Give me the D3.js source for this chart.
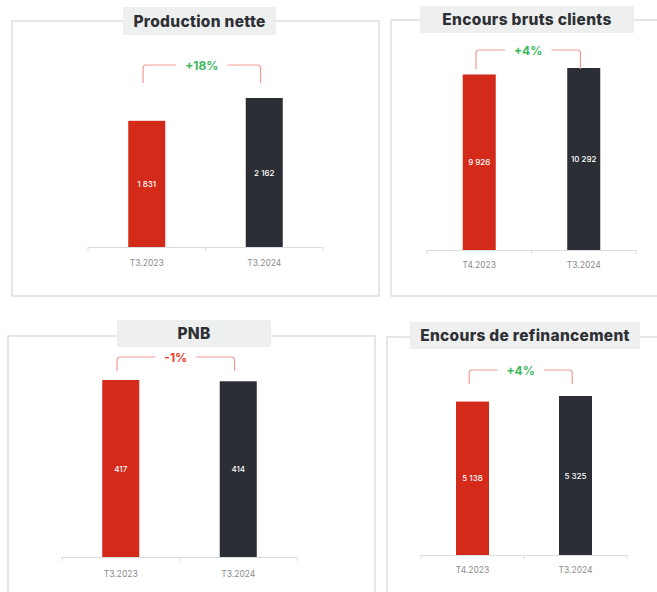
<!DOCTYPE html>
<html>
<head>
<meta charset="utf-8">
<script src="https://cdn.jsdelivr.net/npm/d3@7"></script>
<style>
  body { margin: 0; background: #fff; }
  svg { display: block; }
</style>
</head>
<body>
<div id="chart"></div>
<script>
// data
var titles = ["Production nette", "Encours bruts clients", "PNB", "Encours de refinancement"];
var periods1 = ["T3.2023", "T3.2024"];
var periods2 = ["T4.2023", "T3.2024"];
var periods3 = ["T3.2023", "T3.2024"];
var periods4 = ["T4.2023", "T3.2024"];
var values1 = [1831, 2162];
var values2 = [9926, 10292];
var values3 = [417, 414];
var values4 = [5138, 5325];
var labels1 = ["1 831", "2 162"];
var labels2 = ["9 926", "10 292"];
var labels3 = ["417", "414"];
var labels4 = ["5 138", "5 325"];
var changes = ["+18%", "+4%", "-1%", "+4%"];

var W = 657, H = 592;
var red = "#d42a1a", dark = "#2c2e35", green = "#3dba5c", pinkLine = "#f29a94";

// layout of each panel (box, title box, plot area)
var panels = [
  {title: titles[0], cats: periods1, vals: values1, labs: labels1, chg: changes[0],
   box: [12, 21, 379, 296], tbox: [123, 7, 276, 35],
   ax: [88, 323], base: 247, top: 98, bw: 37, by: 65, bh: 18, lblY: 266},
  {title: titles[1], cats: periods2, vals: values2, labs: labels2, chg: changes[1],
   box: [391, 20, 665, 296], tbox: [420, 6, 634, 33],
   ax: [427, 636], base: 250, top: 68, bw: 33, by: 50, bh: 19, lblY: 268},
  {title: titles[2], cats: periods3, vals: values3, labs: labels3, chg: changes[2],
   box: [8, 336, 375, 600], tbox: [117, 320, 271, 347],
   ax: [62, 297], base: 557, top: 380, bw: 37, by: 357, bh: 14, lblY: 577},
  {title: titles[3], cats: periods4, vals: values4, labs: labels4, chg: changes[3],
   box: [387, 337, 665, 600], tbox: [410, 322, 640, 349],
   ax: [421, 627], base: 555, top: 396, bw: 33, by: 370, bh: 14, lblY: 573}
];

var svg = d3.select("#chart").append("svg")
  .attr("width", W).attr("height", H)
  .style("font-family", "Inter, 'Noto Sans', sans-serif");

panels.forEach(function(p) {
  var g = svg.append("g");

  // panel frame
  g.append("rect")
    .attr("x", p.box[0]).attr("y", p.box[1])
    .attr("width", p.box[2] - p.box[0]).attr("height", p.box[3] - p.box[1])
    .attr("fill", "none").attr("stroke", "#dde2e2").attr("stroke-width", 1.6);

  // title box
  g.append("rect")
    .attr("x", p.tbox[0]).attr("y", p.tbox[1])
    .attr("width", p.tbox[2] - p.tbox[0]).attr("height", p.tbox[3] - p.tbox[1])
    .attr("fill", "#eef0f0");
  g.append("text")
    .attr("x", (p.tbox[0] + p.tbox[2]) / 2)
    .attr("y", (p.tbox[1] + p.tbox[3]) / 2 + 5.5)
    .attr("text-anchor", "middle")
    .attr("font-size", "15.5px").attr("font-weight", 800)
    .attr("letter-spacing", "0.3px")
    .attr("fill", "#2f3035")
    .text(p.title);

  var x = d3.scalePoint().domain(p.cats).range(p.ax).padding(0.5);
  var y = d3.scaleLinear().domain([0, d3.max(p.vals)]).range([p.base, p.top]);

  // axis line with ticks between categories
  g.append("line")
    .attr("x1", p.ax[0]).attr("x2", p.ax[1])
    .attr("y1", p.base + 0.5).attr("y2", p.base + 0.5)
    .attr("stroke", "#d9dede").attr("stroke-width", 1);
  [p.ax[0], (p.ax[0] + p.ax[1]) / 2, p.ax[1]].forEach(function(tx) {
    g.append("line")
      .attr("x1", tx).attr("x2", tx)
      .attr("y1", p.base).attr("y2", p.base + 4)
      .attr("stroke", "#d9dede");
  });

  // bars
  g.selectAll("rect.bar")
    .data(p.vals)
    .enter().append("rect")
    .attr("class", "bar")
    .attr("x", function(d, i) { return x(p.cats[i]) - p.bw / 2; })
    .attr("y", function(d) { return y(d); })
    .attr("width", p.bw)
    .attr("height", function(d) { return p.base - y(d); })
    .attr("fill", function(d, i) { return i == 0 ? red : dark; });

  // value labels
  g.selectAll("text.val")
    .data(p.vals)
    .enter().append("text")
    .attr("class", "val")
    .attr("x", function(d, i) { return x(p.cats[i]); })
    .attr("y", function(d) { return (y(d) + p.base) / 2 + 3; })
    .attr("text-anchor", "middle")
    .attr("font-size", "8px").attr("font-weight", 500)
    .attr("fill", "#fff")
    .text(function(d, i) { return p.labs[i]; });

  // category labels
  g.selectAll("text.cat")
    .data(p.cats)
    .enter().append("text")
    .attr("class", "cat")
    .attr("x", function(d) { return x(d); })
    .attr("y", p.lblY)
    .attr("text-anchor", "middle")
    .attr("font-size", "8.5px")
    .attr("fill", "#8a8c8e")
    .text(function(d) { return d; });

  // evolution bracket
  var bx1 = x(p.cats[0]) - p.bw * 0.1;
  var bx2 = x(p.cats[1]) - p.bw * 0.1;
  var mid = (bx1 + bx2) / 2;
  var neg = p.chg.charAt(0) == "-";
  var pct = g.append("text")
    .attr("x", mid).attr("y", p.by + 4.5)
    .attr("text-anchor", "middle")
    .attr("font-size", "12px").attr("font-weight", 700)
    .attr("fill", neg ? "#ee3b2c" : green)
    .text(p.chg);
  var half = pct.node().getComputedTextLength() / 2 + 9;
  var r = 3;
  g.append("path")
    .attr("d", "M" + bx1 + "," + (p.by + p.bh) + "V" + (p.by + r) +
      "Q" + bx1 + "," + p.by + " " + (bx1 + r) + "," + p.by + "H" + (mid - half))
    .attr("fill", "none").attr("stroke", pinkLine).attr("stroke-width", 1.2);
  g.append("path")
    .attr("d", "M" + (mid + half) + "," + p.by + "H" + (bx2 - r) +
      "Q" + bx2 + "," + p.by + " " + bx2 + "," + (p.by + r) + "V" + (p.by + p.bh))
    .attr("fill", "none").attr("stroke", pinkLine).attr("stroke-width", 1.2);
});
</script>
</body>
</html>
